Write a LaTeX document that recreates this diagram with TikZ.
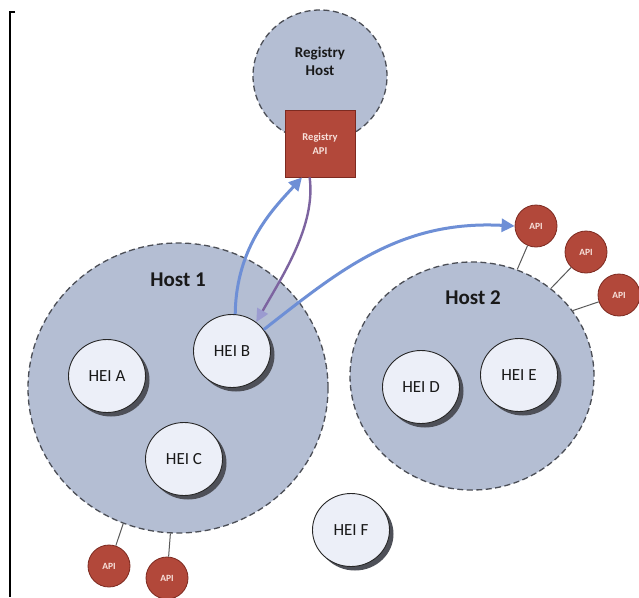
\documentclass[tikz,border=0pt]{standalone}
\usepackage{fontspec}
\setmainfont{Carlito}
\usetikzlibrary{shapes.geometric,arrows.meta}
\definecolor{hostfill}{RGB}{180,190,211}
\definecolor{hostline}{RGB}{75,78,86}
\definecolor{heifill}{RGB}{236,239,248}
\definecolor{heishadowcol}{RGB}{78,80,88}
\definecolor{apifill}{RGB}{178,72,58}
\definecolor{apiline}{RGB}{125,42,32}
\definecolor{apitext}{RGB}{248,226,220}
\definecolor{arrowblue}{RGB}{110,143,214}
\definecolor{arrowpurple}{RGB}{125,100,160}
\definecolor{arrowlav}{RGB}{155,155,208}
\definecolor{inktext}{RGB}{25,25,25}
\begin{document}
\begin{tikzpicture}[x=1pt,y=-1pt,
  host/.style={ellipse, draw=hostline, fill=hostfill, line width=1.3pt,
    dash pattern=on 6pt off 3.5pt, inner sep=0pt},
  hostlabel/.style={font=\bfseries\fontsize{21}{24}\selectfont, text=inktext},
  heisize/.style={ellipse, minimum width=77pt, minimum height=73pt, inner sep=0pt},
  heishadow/.style={heisize, fill=heishadowcol},
  hei/.style={heisize, draw=black!85, fill=heifill, line width=0.9pt,
    font=\fontsize{17}{20}\selectfont, text=inktext},
  api/.style={circle, draw=apiline, fill=apifill, line width=0.8pt,
    minimum size=42pt, inner sep=0pt,
    font=\bfseries\fontsize{9.5}{11}\selectfont, text=apitext},
  link/.style={draw=black!65, line width=1pt},
  bluearrow/.style={draw=arrowblue, line width=3pt,
    -{Triangle[length=13pt,width=13pt]}},
  purplearrow/.style={draw=arrowpurple, line width=2.4pt,
    -{Triangle[length=13pt,width=12pt,color=arrowlav]}}
]
\useasboundingbox (0,0) rectangle (639,597);
\fill[white] (0,0) rectangle (639,597);

% left frame line
\draw[line width=2pt] (15,12) -- (10,12) -- (10,597);

% registry host and its API
\node[host, minimum width=134pt, minimum height=132pt] (reghost) at (320,76) {};
\node[align=center, font=\bfseries\fontsize{15}{18}\selectfont, text=inktext] (reghostlabel) at (320,61) {Registry\\Host};
\node[rectangle, draw=apiline, fill=apifill, line width=0.8pt,
  minimum width=70pt, minimum height=67pt, inner sep=0pt, align=center,
  font=\bfseries\fontsize{10.5}{14}\selectfont, text=apitext] (regapi) at (320,143.5) {Registry\\API};

% hosts
\node[host, minimum width=300pt, minimum height=290pt] (h1) at (178,388) {};
\node[hostlabel] (h1label) at (178,280) {Host 1};
\node[host, minimum width=244pt, minimum height=228pt] (h2) at (472,376) {};
\node[hostlabel] (h2label) at (473,298) {Host 2};

% HEI shadows
\node[heishadow] (heiashadow) at (111,380) {};
\node[heishadow] (heibshadow) at (236,355) {};
\node[heishadow] (heicshadow) at (188,463) {};
\node[heishadow] (heidshadow) at (425,391) {};
\node[heishadow] (heieshadow) at (523,379) {};
\node[heishadow] (heifshadow) at (355,534) {};

% HEIs
\node[hei] (heia) at (107,376) {HEI A};
\node[hei] (heib) at (232,351) {HEI B};
\node[hei] (heic) at (184,459) {HEI C};
\node[hei] (heid) at (421,387) {HEI D};
\node[hei] (heie) at (519,375) {HEI E};
\node[hei] (heif) at (351,530) {HEI F};

% API endpoints
\node[api] (api1) at (536,226) {API};
\node[api] (api2) at (586,252) {API};
\node[api] (api3) at (619,295) {API};
\node[api] (api4) at (109,566) {API};
\node[api] (api5) at (167,578) {API};

\draw[link] (h2.67) -- (api1);
\draw[link] (h2.48) -- (api2);
\draw[link] (h2.33) -- (api3);
\draw[link] (h1.248) -- (api4);
\draw[link] (h1.267) -- (api5);

% arrows
\draw[purplearrow] (regapi.253) .. controls (316,225) and (283,275) .. (heib.50);
\draw[bluearrow] (heib.85) .. controls (236,245) and (275,207) .. (regapi.242);
\draw[bluearrow] (heib.34) .. controls (340,270) and (400,220) .. (api1.west);
\end{tikzpicture}
\end{document}
